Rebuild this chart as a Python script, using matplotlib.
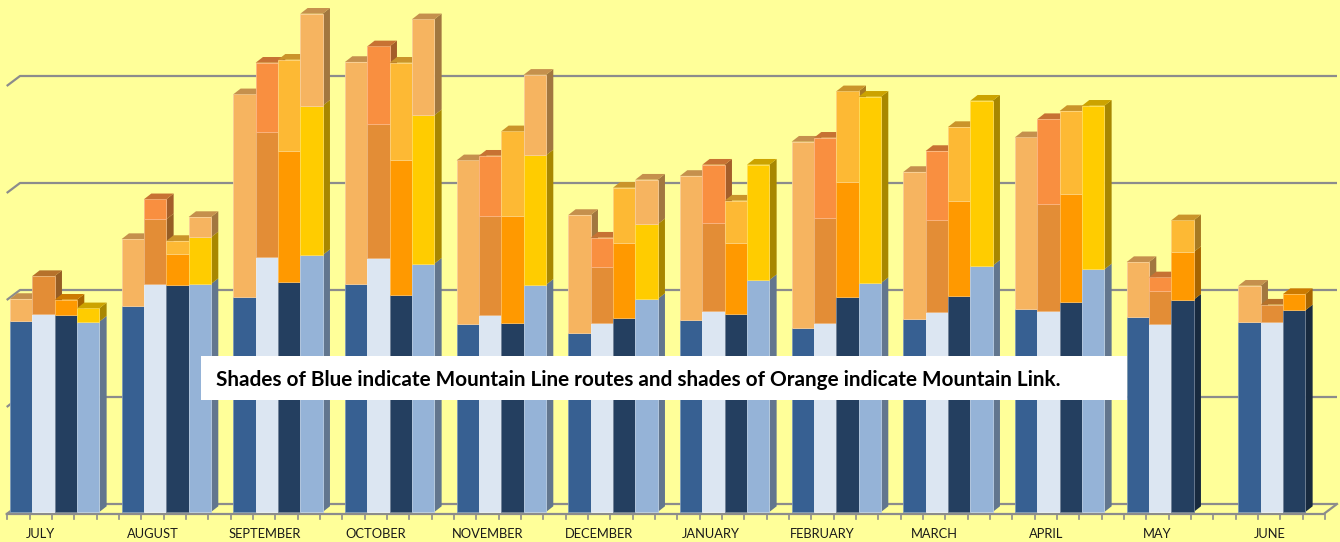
import matplotlib.pyplot as plt
from matplotlib.patches import Polygon, Rectangle
import matplotlib.colors as mcolors
import numpy as np

# monthly ridership, 4 columns per month (May / June only 3)
months = ['JULY', 'AUGUST', 'SEPTEMBER', 'OCTOBER', 'NOVEMBER', 'DECEMBER',
          'JANUARY', 'FEBRUARY', 'MARCH', 'APRIL', 'MAY', 'JUNE']

# Mountain Line (blue part of each column)
line_a = [178.8, 192.5, 201.2, 213.4, 176.0, 167.0, 179.2, 171.7, 180.1, 189.7, 182.2, 177.6]
line_b = [185.0, 213.4, 238.3, 237.1, 183.8, 176.9, 187.6, 176.9, 187.2, 188.1, 175.4, 177.6]
line_c = [184.1, 211.9, 215.0, 202.8, 176.6, 181.6, 185.1, 200.7, 201.6, 196.5, 198.4, 188.5]
line_d = [177.9, 213.1, 240.2, 232.1, 212.4, 199.1, 216.8, 214.0, 230.2, 226.8, 0, 0]

# Mountain Link (orange parts, lower and upper)
link_a1 = [20.3, 62.6, 189.2, 207.2, 152.7, 110.6, 134.9, 174.4, 137.7, 160.5, 51.4, 33.9]
link_a2 = [0] * 12
link_b1 = [35.5, 60.2, 116.8, 125.5, 92.8, 52.1, 82.2, 98.1, 86.0, 99.7, 30.8, 16.2]
link_b2 = [0, 18.7, 64.8, 72.6, 56.4, 27.4, 54.8, 74.8, 64.2, 79.4, 13.1, 0]
link_c1 = [14.3, 29.3, 122.4, 126.2, 100.0, 69.8, 66.6, 108.0, 89.3, 100.7, 44.6, 15.2]
link_c2 = [0, 12.1, 85.3, 90.9, 79.2, 51.7, 39.3, 84.5, 68.9, 77.6, 29.6, 0]
link_d1 = [12.5, 43.6, 139.5, 138.7, 120.9, 69.8, 107.8, 174.1, 154.2, 152.9, 0, 0]
link_d2 = [0, 19.0, 86.0, 89.7, 75.3, 41.7, 0, 0, 0, 0, 0, 0]

columns = [
    (line_a, link_a1, link_a2, ['#376092', '#F6B460', '#F6B460']),
    (line_b, link_b1, link_b2, ['#DCE6F2', '#E38D36', '#F98F40']),
    (line_c, link_c1, link_c2, ['#243F60', '#FF9900', '#FDB934']),
    (line_d, link_d1, link_d2, ['#95B3D7', '#FFCC00', '#F6B460']),
]

bg = '#FFFF99'
grid_col = '#8C8C8C'

fig = plt.figure(figsize=(13.4, 5.42), dpi=100, facecolor=bg)
ax = fig.add_axes([0, 0, 1, 1])
ax.set_facecolor(bg)
ax.axis('off')

slot_px = 1340 / 60     # one column slot in pixels
px_unit = 1.07          # pixels per value unit
x_lo = -10 / slot_px
ax.set_xlim(x_lo, x_lo + 1340 / slot_px)
ax.set_ylim(-30 / px_unit, 512 / px_unit)


def px_x(p):
    return p / slot_px


def px_y(p):
    return p / px_unit


def shade(c, f):
    r, g, b = mcolors.to_rgb(c)
    return (r * f, g * f, b * f)


def tint(c, f):
    r, g, b = mcolors.to_rgb(c)
    return (r + (1 - r) * f, g + (1 - g) * f, b + (1 - b) * f)


# back wall gridlines + floor
wall_dx, wall_dy = px_x(13.3), px_y(10)
back0 = px_y(8)
xl = x_lo + px_x(20)
xr = x_lo + px_x(1337)
for k in range(5):
    y = back0 + 100 * k
    ax.plot([xl - wall_dx, xl, xr], [y - wall_dy, y, y], color=grid_col, lw=1.6,
            solid_capstyle='butt', zorder=1)
y_front = back0 - wall_dy
ax.plot([xl - wall_dx, xr - wall_dx, xr], [y_front, y_front, back0], color=grid_col, lw=1.6, zorder=1)
for j in range(60):
    xt = x_lo + px_x(7.3) + j
    ax.plot([xt, xt], [y_front, y_front - px_y(5)], color=grid_col, lw=1.2, zorder=1)

# 3D-looking stacked columns
dx, dy = px_x(7.3), px_y(5.7)
for m in range(len(months)):
    for b, (line, l1, l2, cols) in enumerate(columns):
        segs = [line[m], l1[m], l2[m]]
        if segs[0] == 0:
            continue
        x0 = 5 * m + b
        x1 = x0 + 1
        bottom = 0
        top_col = None
        for val, c in zip(segs, cols):
            if val <= 0:
                continue
            t = bottom + val
            ax.add_patch(Polygon([(x1, bottom), (x1 + dx, bottom + dy), (x1 + dx, t + dy), (x1, t)],
                                 closed=True, facecolor=shade(c, 0.66), edgecolor='none', zorder=2))
            ax.bar(x0, val, width=1, bottom=bottom, align='edge', color=c,
                   edgecolor=tint(c, 0.35), linewidth=0.6, zorder=3)
            bottom = t
            top_col = c
        ax.add_patch(Polygon([(x0, bottom), (x0 + dx, bottom + dy), (x1 + dx, bottom + dy), (x1, bottom)],
                             closed=True, facecolor=shade(top_col, 0.8), edgecolor='none', zorder=3))

# month labels
for m, name in enumerate(months):
    ax.text(5 * m + px_x(30.9), -px_y(26), name, ha='center', va='baseline',
            fontsize=9.3, family='Lato', color='#1a1a1a')

# note box
ax.add_patch(Rectangle((201 / 1340, (542 - 400) / 542), 926 / 1340, 44 / 542,
                       transform=ax.transAxes, facecolor='white', edgecolor='none', zorder=10))
note = ax.text(216 / 1340, (542 - 385.5) / 542,
               'Shades of Blue indicate Mountain Line routes and shades of Orange indicate Mountain Link.',
               transform=ax.transAxes, ha='left', va='baseline', fontsize=15,
               family='Lato', fontweight='bold', color='black', zorder=11)
fig.canvas.draw()
w = note.get_window_extent().width
note.set_fontsize(15 * 850 / w)

fig.savefig('out.png', dpi=100, facecolor=bg)
